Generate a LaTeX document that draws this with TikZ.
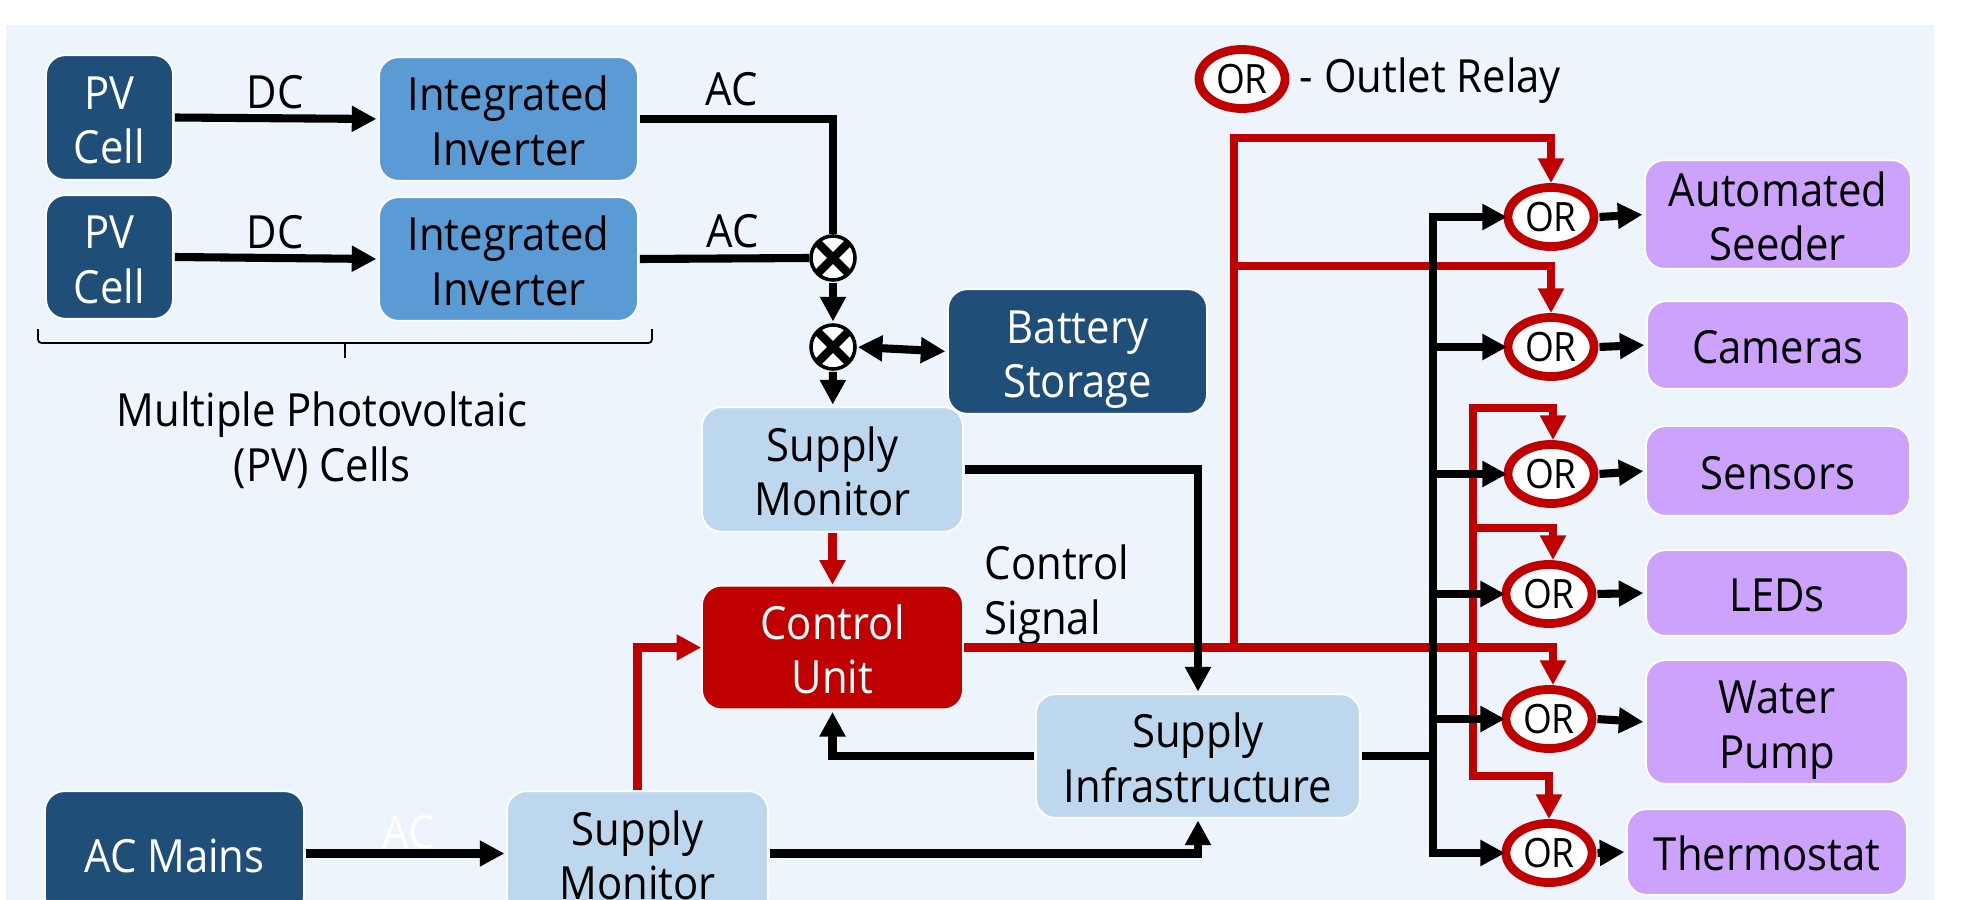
\documentclass[tikz,border=0pt]{standalone}
\usepackage{fontspec}
\setmainfont{Open Sans}[FakeStretch=0.915]
\usetikzlibrary{arrows.meta,shapes.geometric}
\definecolor{panelbg}{HTML}{EDF4FB}
\definecolor{navy}{HTML}{1F4E79}
\definecolor{invblue}{HTML}{5B9BD5}
\definecolor{paleblue}{HTML}{BDD7EE}
\definecolor{ctrlred}{HTML}{C00000}
\definecolor{loadpurple}{HTML}{CCA2FC}
\newcommand{\labelfont}{\fontsize{13}{15.6}\selectfont}
\tikzset{>={Triangle[length=7pt,width=7pt]}}
\tikzset{lineheights/.style={execute at begin node={\rule{0pt}{14pt}}, execute at end node={\rule[-3.2pt]{0pt}{3.2pt}}}}
\tikzset{twolines/.style={execute at begin node={\rule{0pt}{29.6pt}}}}
\tikzset{dbox/.style={rounded corners=5.5pt, draw=white, line width=0.5pt, inner sep=0pt, align=center, font=\labelfont, lineheights}}
\tikzset{boxsize/.style 2 args={minimum width={#1 cm+0.5pt}, minimum height={#2 cm+1pt}}}
\tikzset{srcbox/.style={dbox, fill=navy, text=white}}
\tikzset{invbox/.style={dbox, twolines, fill=invblue, boxsize={2.57}{1.2}}}
\tikzset{supplybox/.style={dbox, twolines, fill=paleblue}}
\tikzset{loadbox/.style={dbox, fill=loadpurple}}
\tikzset{lbl/.style={inner sep=0pt, align=center, font=\labelfont, lineheights}}
\tikzset{relay/.style={ellipse, draw=ctrlred, fill=white, line width=2.5pt, inner sep=0pt, minimum width=0.86cm, minimum height=0.59cm, font=\fontsize{11.5}{13}\selectfont}}
\tikzset{mixer/.style={circle, draw, fill=white, line width=1pt, inner sep=0pt, minimum size=0.44cm, path picture={\draw[line width=2.4pt] (path picture bounding box.north west) -- (path picture bounding box.south east) (path picture bounding box.north east) -- (path picture bounding box.south west);}}}
\tikzset{wire/.style={draw, line width=2.3pt, shorten <=0.3pt}}
\tikzset{arr/.style={wire, ->, shorten >=0.5pt}}
\tikzset{redarr/.style={arr, ctrlred, shorten <=0pt, shorten >=0pt}}

\begin{document}
\begin{tikzpicture}[x=0.01cm, y=-0.01cm]
	\useasboundingbox (0,0) rectangle (1966,900);
	\clip (0,0) rectangle (1966,900);
	\fill[panelbg] (6,25) rectangle (1934,900);

	\node[srcbox, twolines, boxsize={1.25}{1.21}] (PV1) at (109.5,117.5){PV\\Cell};
	\node[srcbox, twolines, boxsize={1.25}{1.2}] (PV2) at (109.5,257){PV\\Cell};
	\node[invbox] (Inv1) at (508.5,119){Integrated\\Inverter};
	\node[invbox] (Inv2) at (508.5,259){Integrated\\Inverter};
	\node[mixer] (Mix1) at (833,258){};
	\node[mixer] (Mix2) at (833,347){};
	\node[srcbox, twolines, boxsize={2.57}{1.21}] (Batt) at (1077.5,351.5){Battery\\Storage};
	\node[supplybox, boxsize={2.59}{1.21}] (Mon1) at (832.5,469.5){Supply\\Monitor};
	\node[dbox, twolines, fill=ctrlred, text=white, boxsize={2.59}{1.2}] (Ctrl) at (832.5,647.5){Control\\Unit};
	\node[supplybox, boxsize={3.22}{1.2}] (Infra) at (1198,756){Supply\\Infrastructure};
	\node[srcbox, boxsize={2.57}{1.21}] (Mains) at (174.5,853.5){AC Mains};
	\node[supplybox, boxsize={2.59}{1.21}] (Mon2) at (637.5,853.5){Supply\\Monitor};

	\node[relay] (OR1) at (1551,217){OR};
	\node[relay] (OR2) at (1551,347){OR};
	\node[relay] (OR3) at (1551,474){OR};
	\node[relay] (OR4) at (1549,594){OR};
	\node[relay] (OR5) at (1549,719){OR};
	\node[relay] (OR6) at (1549,853){OR};
	\node[relay] (ORkey) at (1242,79){OR};

	\node[loadbox, twolines, inner ysep=-2pt, boxsize={2.64}{1.05}] (Seeder) at (1778,214.5){Automated\\Seeder};
	\node[loadbox, boxsize={2.6}{0.84}] (Cam) at (1778,345){Cameras};
	\node[loadbox, boxsize={2.62}{0.86}] (Sens) at (1778,471){Sensors};
	\node[loadbox, boxsize={2.6}{0.82}] (LED) at (1777,593){LEDs};
	\node[loadbox, twolines, boxsize={2.6}{1.2}] (Pump) at (1777,722){Water\\Pump};
	\node[loadbox, boxsize={2.78}{0.82}] (Thermo) at (1767,852){Thermostat};

	\node[lbl] (dc1) at (275,89.5){DC};
	\node[lbl] (dc2) at (275,229.5){DC};
	\node[lbl] (ac1) at (732,87){AC};
	\node[lbl] (ac2) at (733,228.5){AC};
	\node[lbl, text=white] (ac3) at (409,830){AC};
	\node[lbl, twolines] (pvnote) at (322,435){Multiple Photovoltaic\\(PV) Cells};
	\node[lbl, twolines, align=left, anchor=west] (signote) at (984,588){Control\\Signal};
	\node[lbl, anchor=west] (keynote) at (1299,73.5){- Outlet Relay};

	\draw[line width=0.5pt, rounded corners=1pt] (38,329) |- (652,343) -- (652,329);
	\draw[line width=0.5pt] (345,343) -- (345,358);

	% control lines first, power goes over them
	\coordinate (Jctl) at (1234,648);
	\coordinate (Ktop) at (1234,138);
	\coordinate (Kmid) at (1234,266);
	\coordinate (Kin) at (1473,408);
	\coordinate (Kled) at (1473,528);
	\coordinate (Kbot) at (1473,776);

	\draw[redarr] (Mon1) -- (Ctrl);
	\draw[redarr] (Mon2.north) |- (Ctrl.west);
	\draw[redarr] (Ctrl.east) -| ([xshift=0.04cm]OR5.north);
	\draw[redarr] (Jctl) -- (Ktop) -| (OR1.north);
	\draw[redarr] (Kmid) -| (OR2.north);
	\draw[redarr] (Kled) -- (Kin) -| ([xshift=0.02cm]OR3.north);
	\draw[redarr] (Kled) -| ([xshift=0.04cm]OR4.north);
	\draw[redarr] (Kled) -- (Kbot) -| (OR6.north);

	\draw[arr] (PV1.east) -- (Inv1.west);
	\draw[arr] (PV2.east) -- (Inv2.west);
	\draw[wire] (Inv1.east) -| (Mix1.north);
	\draw[wire] (Inv2.east) -- (Mix1.west);
	\draw[arr] (Mix1) -- (Mix2);
	\draw[arr, <->] (Mix2.east) -- (Batt.west);
	\draw[arr] (Mix2) -- (Mon1);
	\draw[arr] (Mon1.east) -| (Infra.north);
	\draw[arr] (Infra.west) -| (Ctrl.south);
	\draw[arr] (Mains.east) -- (Mon2.west);
	\draw[arr] (Mon2.east) -| (Infra.south);

	\coordinate (Bus) at (1433,756);
	\draw[wire] (Infra.east) -- (Bus);
	\foreach \r in {OR1,OR2,OR3,OR4,OR5,OR6}{
		\draw[arr, shorten <=0pt, shorten >=-1pt] (Bus) |- (\r.west);
	}

	\draw[arr] (OR1.east) -- (Seeder.west);
	\draw[arr] (OR2.east) -- (Cam.west);
	\draw[arr] (OR3.east) -- (Sens.west);
	\draw[arr] (OR4.east) -- (LED.west);
	\draw[arr] (OR5.east) -- (Pump.west);
	\draw[arr] (OR6.east) -- (Thermo.west);
\end{tikzpicture}
\end{document}
